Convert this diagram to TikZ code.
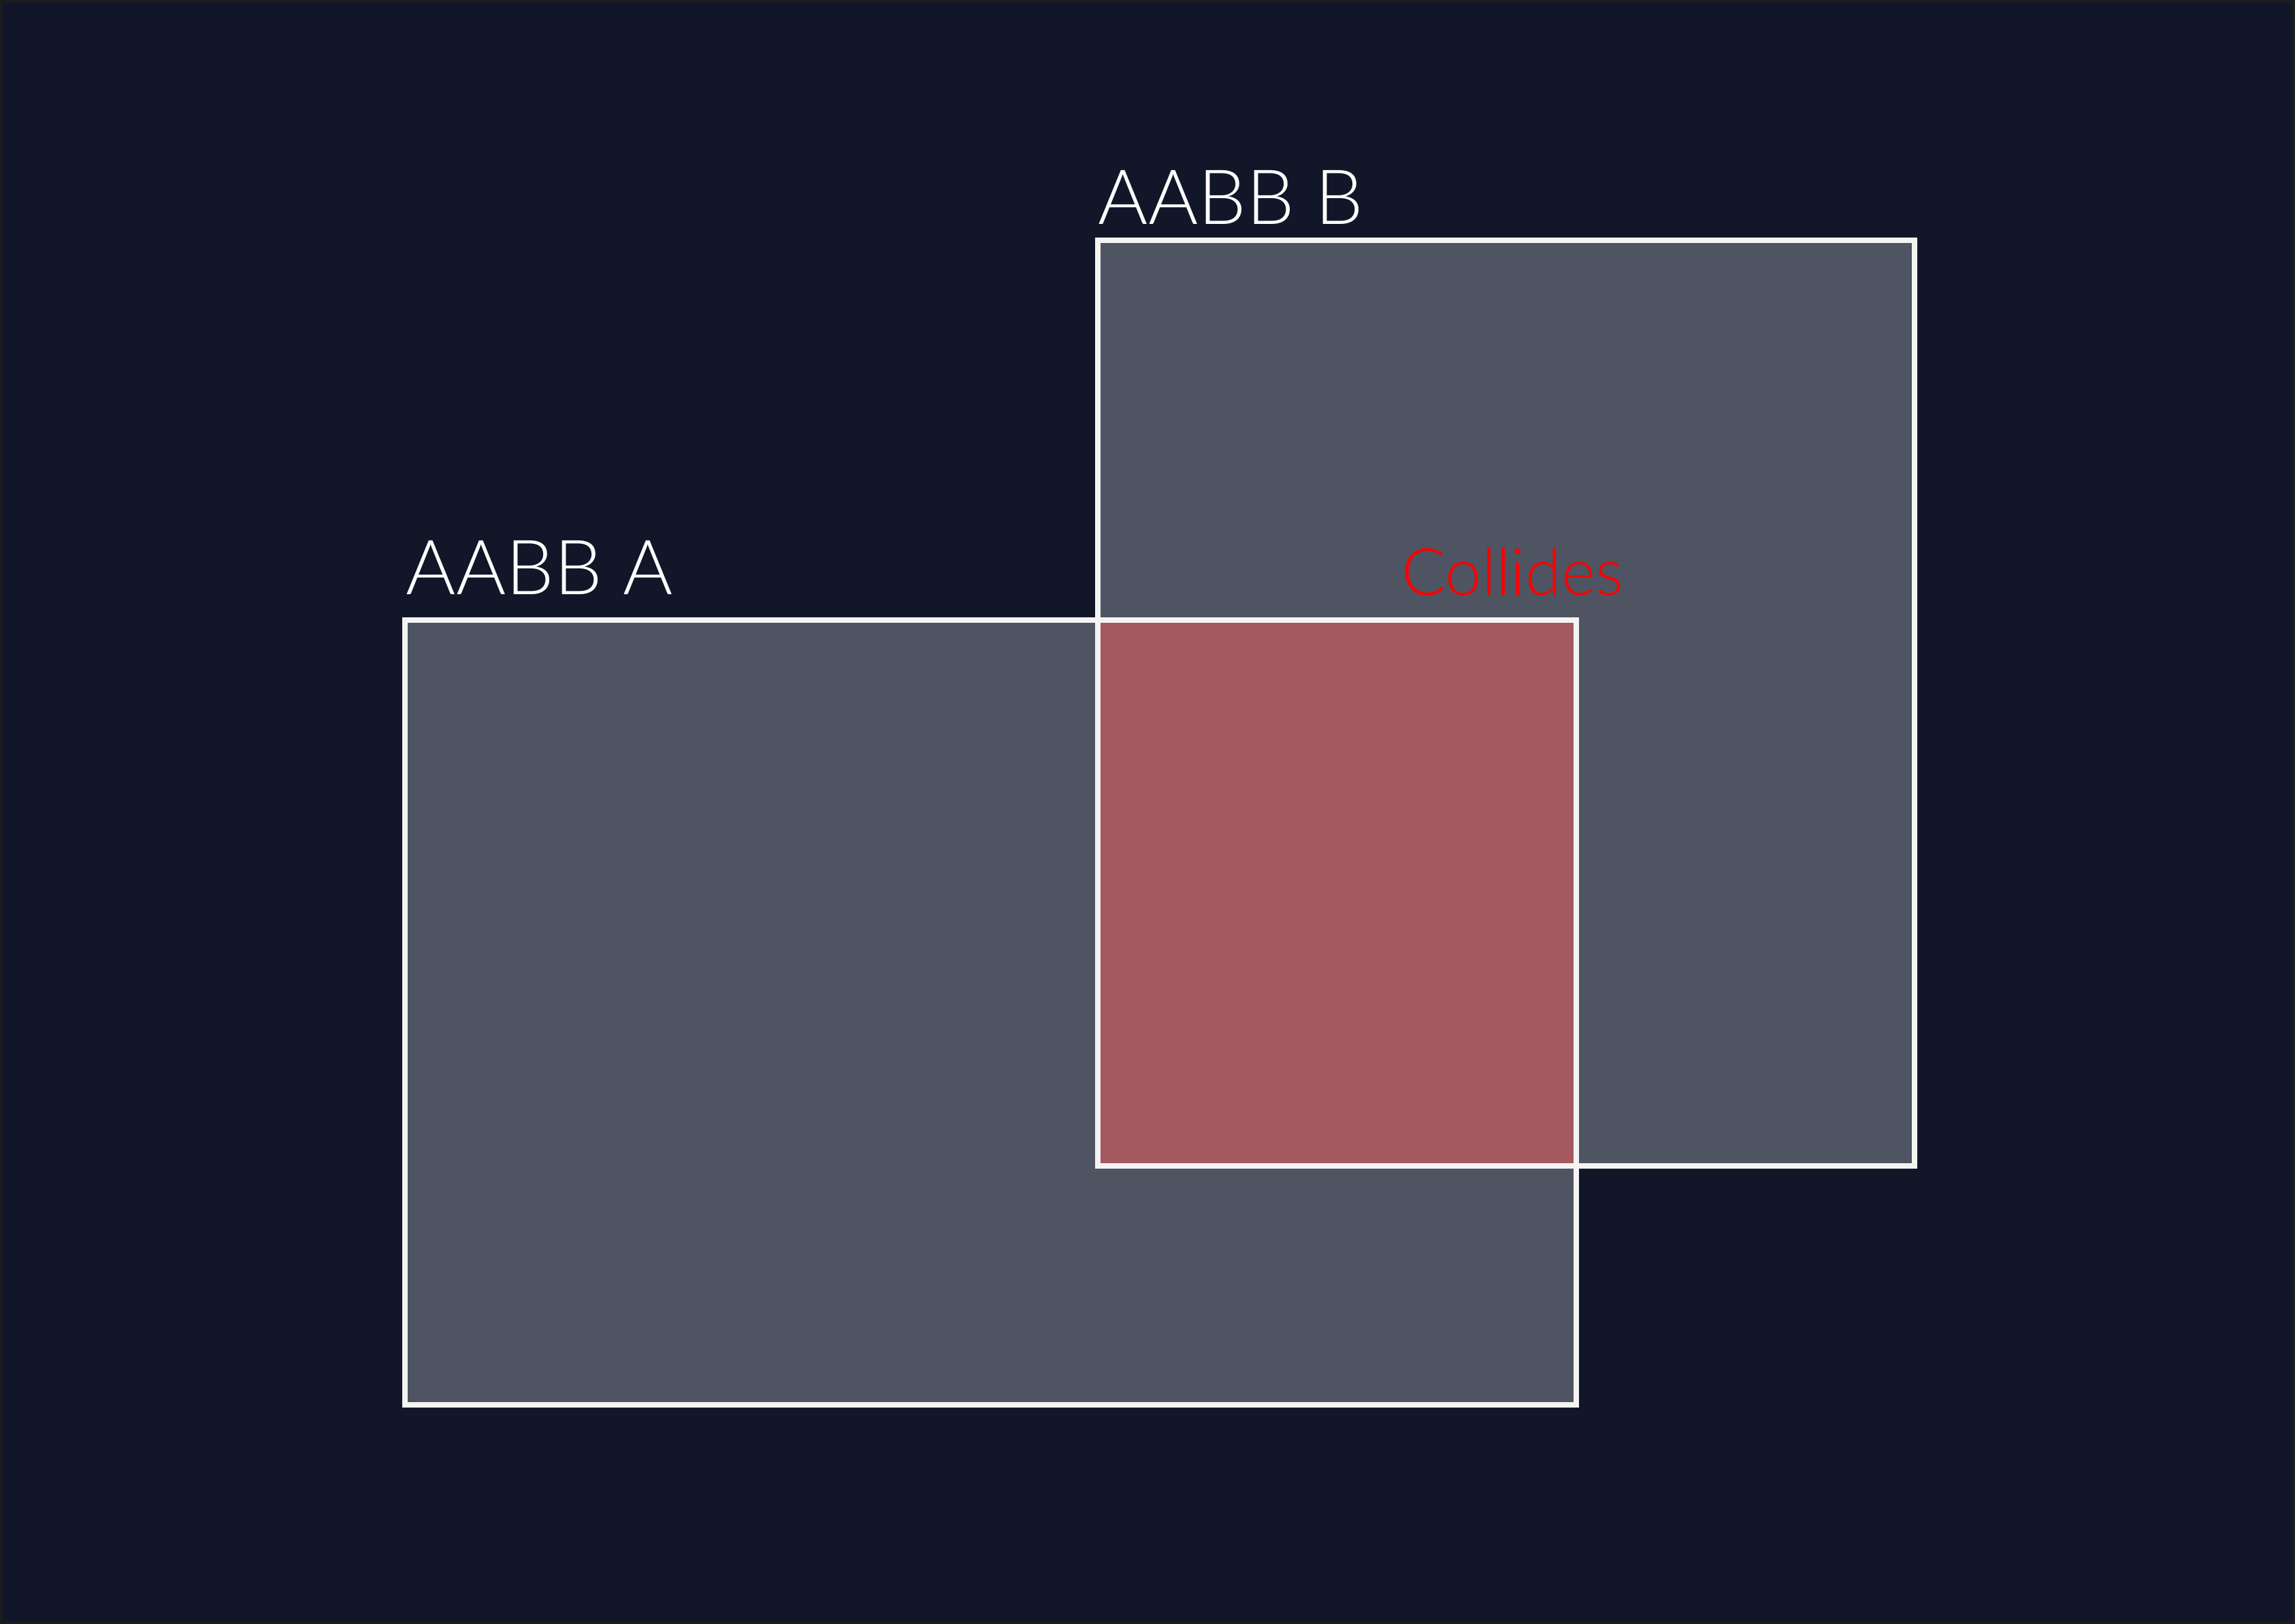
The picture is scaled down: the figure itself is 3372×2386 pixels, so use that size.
\documentclass[tikz,border=0pt]{standalone}
\usepackage{fontspec}
\newfontfamily\lightfont{Lato Light}
\definecolor{bgc}{HTML}{111729}
\definecolor{framec}{HTML}{1C1C1C}
\definecolor{boxfill}{HTML}{4F5462}
\definecolor{hitfill}{HTML}{A45860}
\definecolor{edgec}{HTML}{F4F4F4}
\tikzset{
  boxedge/.style={draw=edgec, line width=0.08cm},
  lbl/.style={anchor=base west, inner sep=0pt, text=white, font=\lightfont\fontsize{31.8}{36}\selectfont},
  hitlbl/.style={anchor=base west, inner sep=0pt, text=red, font=\lightfont\fontsize{27.3}{30}\selectfont}
}
\begin{document}
\begin{tikzpicture}[x=0.01cm,y=-0.01cm]
\useasboundingbox (0,0) rectangle (3372,2386);
\fill[framec] (0,0) rectangle (3372,2386);
\fill[bgc] (4,4) rectangle (3368,2382);
% corners
\coordinate (a1) at (595,911);
\coordinate (a2) at (2316,2064);
\coordinate (b1) at (1613,353);
\coordinate (b2) at (2813,1713);
\fill[boxfill] (a1) rectangle (a2);
\fill[boxfill] (b1) rectangle (b2);
\fill[hitfill] (1613,911) rectangle (2316,1713);
\draw[boxedge] (a1) rectangle (a2);
\draw[boxedge] (b1) rectangle (b2);
\node[lbl] (la) at (596,874) {AABB A};
\node[lbl] (lb) at (1613,330) {AABB B};
\node[hitlbl] (lc) at (2059,875) {Collides};
\end{tikzpicture}
\end{document}
